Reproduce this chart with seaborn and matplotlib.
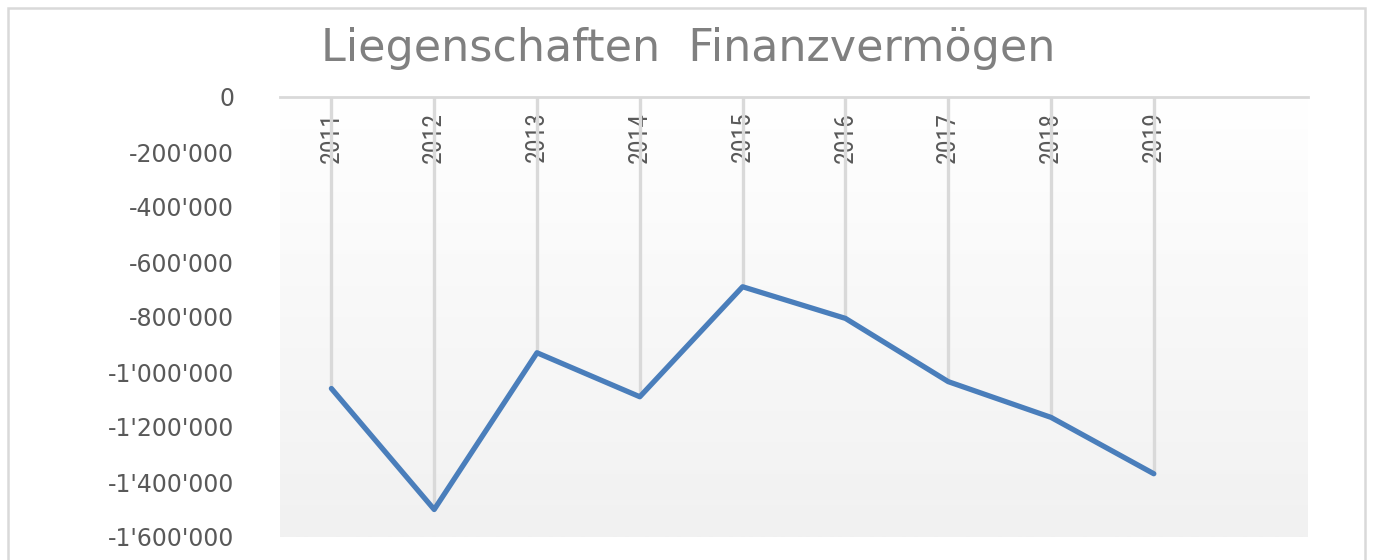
import numpy as np
import pandas as pd
import matplotlib
matplotlib.use("Agg")
import matplotlib.pyplot as plt
from matplotlib import font_manager
from matplotlib.colors import LinearSegmentedColormap
from matplotlib.ticker import FuncFormatter
from matplotlib.patches import Rectangle
import seaborn as sns

# ---- data ----
title = "Liegenschaften  Finanzvermögen"
years = ["2011", "2012", "2013", "2014", "2015", "2016", "2017", "2018", "2019"]
values = [-1060000, -1500000, -930000, -1090000, -690000, -805000, -1035000, -1165000, -1370000]
y_ticks = [0, -200000, -400000, -600000, -800000, -1000000, -1200000, -1400000, -1600000]

sns.set_theme(style="white")
plt.rcParams["font.family"] = ["DejaVu Sans"]

# pick a narrow font for the rotated year labels
entries = font_manager.fontManager.ttflist
names = {f.name for f in entries}
narrow_family = None
narrow_stretch = "normal"
for cand in ["Liberation Sans Narrow", "Arial Narrow", "Roboto Condensed", "Open Sans Condensed"]:
    if cand in names:
        narrow_family = cand
        break
if narrow_family is None:
    cond = [f for f in entries if f.name == "DejaVu Sans" and str(f.stretch) in ("condensed", "semi-condensed")]
    narrow_family = "DejaVu Sans"
    if cond:
        narrow_stretch = "condensed"

W, H = 1381, 560
fig = plt.figure(figsize=(W / 100, H / 100), dpi=100)
fig.patch.set_facecolor("white")

# outer chart border
fig.patches.append(Rectangle((8 / W, -0.05), (1365 - 8) / W, 1 - 8 / H + 0.05,
                             transform=fig.transFigure, fill=False,
                             edgecolor="#d9d9d9", linewidth=1.8))

ax = fig.add_axes([280 / W, 1 - 537 / H, (1308 - 280) / W, (537 - 97) / H])

# gradient plot-area background
grad = np.linspace(0, 1, 256).reshape(-1, 1)
cmap = LinearSegmentedColormap.from_list("bg", ["#ffffff", "#f1f1f1"])
ax.imshow(grad, cmap=cmap, extent=[0, 1, 0, 1], transform=ax.transAxes,
          aspect="auto", zorder=0, interpolation="bilinear")

pos = np.arange(len(years))
df = pd.DataFrame({"pos": pos, "value": values, "year": years})

# drop lines
ax.vlines(df["pos"], df["value"], 0, colors="#d9d9d9", linewidth=2.4, zorder=2.5)

sns.lineplot(data=df, x="pos", y="value", ax=ax, color="#4a7ebb",
             linewidth=3.8, zorder=3, solid_capstyle="round", solid_joinstyle="round")

ax.set_xlim(-0.5, 9.5)
ax.set_ylim(-1600000, 0)
ax.set_xlabel("")
ax.set_ylabel("")

for s in ["left", "right", "bottom"]:
    ax.spines[s].set_visible(False)
ax.spines["top"].set_color("#d9d9d9")
ax.spines["top"].set_linewidth(2)
ax.spines["top"].set_zorder(2)

ax.set_yticks(y_ticks)
ax.yaxis.set_major_formatter(FuncFormatter(lambda v, p: f"{int(v):,}".replace(",", "'")))
ax.tick_params(axis="y", length=0, pad=33, labelsize=17, labelcolor="#595959")

ax.set_xticks(pos, labels=years)
ax.xaxis.tick_top()
ax.tick_params(axis="x", length=0, pad=-10.5, labelsize=18.5, labelcolor="#595959",
               labelrotation=90)
for lab in ax.get_xticklabels():
    lab.set_verticalalignment("top")
    lab.set_family([narrow_family, "DejaVu Sans"])
    lab.set_stretch(narrow_stretch)
    lab.set_zorder(2)

fig.text(688 / W, 1 - 48 / H, title, ha="center", va="center",
         fontsize=32, color="#808080")

fig.savefig("out.png", dpi=100, facecolor="white")
